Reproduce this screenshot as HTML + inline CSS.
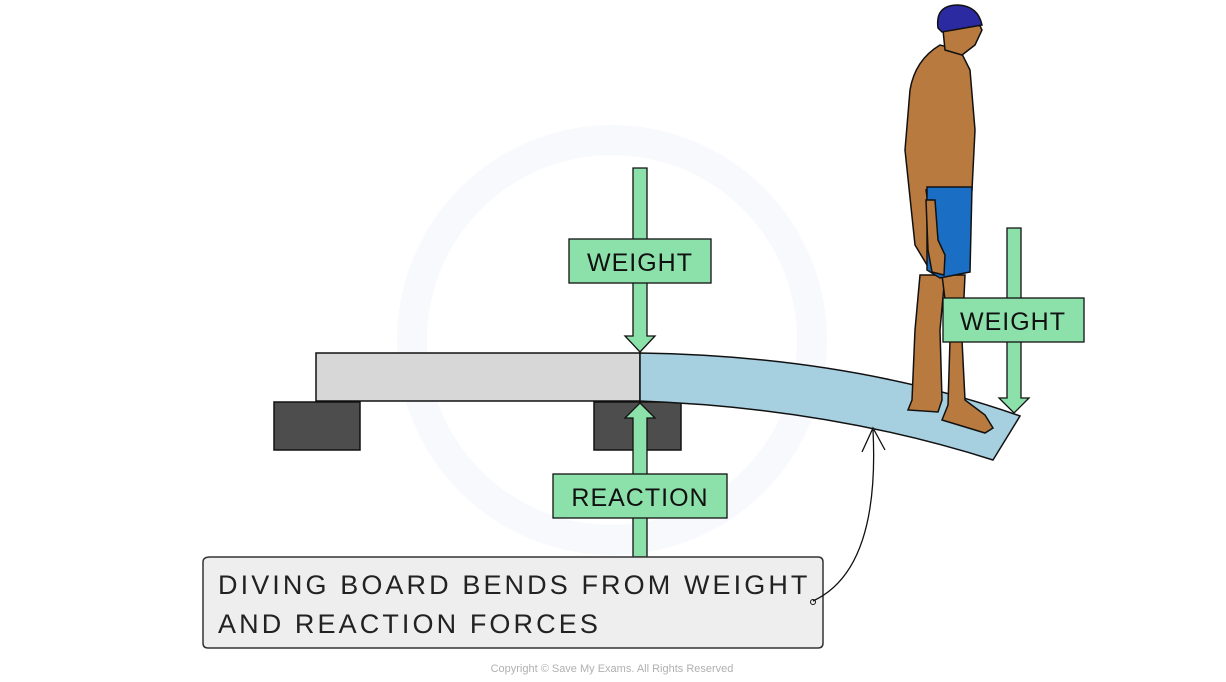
<!DOCTYPE html>
<html><head><style>
html,body{margin:0;padding:0;background:#fff;width:1226px;height:682px;overflow:hidden}
svg{display:block}
text{font-family:"Liberation Sans",sans-serif}
</style></head><body>
<svg width="1226" height="682" viewBox="0 0 1226 682">
<!-- watermark -->
<circle cx="612" cy="340" r="200" fill="none" stroke="#f7f9fc" stroke-width="30"/>
<!-- blocks -->
<rect x="274" y="402" width="86" height="48" fill="#4d4d4d" stroke="#111" stroke-width="1.5"/>
<rect x="594" y="402" width="87" height="48" fill="#4d4d4d" stroke="#111" stroke-width="1.5"/>
<!-- grey board -->
<rect x="316" y="353" width="324" height="48" fill="#d7d7d7" stroke="#111" stroke-width="1.5"/>
<!-- blue board -->
<path d="M640 353 Q850 356 1020 416 L993 460 Q830 408 640 401 Z" fill="#a6cfe0" stroke="#111" stroke-width="1.5"/>
<!-- swimmer -->
<g stroke="#111" stroke-width="1.5">
<path d="M920 275 L915 330 L912 400 L908 410 L938 412 L942 400 L940 330 L945 275 Z" fill="#b87a3e"/>
<path d="M942 275 L950 340 L948 405 L942 420 L985 433 L993 428 L985 415 L965 400 L962 340 L965 275 Z" fill="#b87a3e"/>
<path d="M940 45 Q915 60 910 90 L905 150 L915 245 L930 270 L940 260 L932 230 L926 190 L972 190 L975 130 L970 70 L960 50 Z" fill="#b87a3e"/>
<path d="M942 20 L945 50 L962 55 L975 45 L982 30 L975 15 Z" fill="#b87a3e"/>
<path d="M938 28 Q935 5 958 5 Q978 6 982 25 L942 32 Z" fill="#2c2aa0"/>
<path d="M927 187 L972 187 L970 272 L940 278 L927 270 Z" fill="#1a6fc4"/>
<path d="M926 200 L928 250 L932 272 L944 275 L945 255 L938 240 L935 200 Z" fill="#b87a3e"/>
</g>
<!-- green arrows -->
<g fill="#8ce0aa" stroke="#111" stroke-width="1.3">
<path d="M633 168 L647 168 L647 336 L655 336 L640 352 L625 336 L633 336 Z"/>
<path d="M633 557 L647 557 L647 418 L655 418 L640 403 L625 418 L633 418 Z"/>
<path d="M1007 228 L1021 228 L1021 398 L1029 398 L1014 413 L999 398 L1007 398 Z"/>
<rect x="569" y="239" width="142" height="44"/>
<rect x="553" y="474" width="174" height="44"/>
<rect x="943" y="298" width="141" height="44"/>
</g>
<g font-size="25" fill="#111" text-anchor="middle" letter-spacing="1">
<text x="640" y="271">WEIGHT</text>
<text x="640" y="506">REACTION</text>
<text x="1013" y="330">WEIGHT</text>
</g>
<!-- caption -->
<path d="M210 557 L818 557 Q823 557 823 562 L823 643 Q823 648 818 648 L208 648 Q203 648 203 643 L203 562 Q203 557 210 557 Z" fill="#eeeeee" stroke="#333" stroke-width="1.5"/>
<g font-size="27" fill="#222" letter-spacing="3.1">
<text x="218" y="594">DIVING BOARD BENDS FROM WEIGHT</text>
<text x="218" y="633">AND REACTION FORCES</text>
</g>
<!-- curved arrow -->
<path d="M813 601 Q880 570 873 430" fill="none" stroke="#111" stroke-width="1.3"/>
<path d="M862 452 L873 428 L885 450" fill="none" stroke="#111" stroke-width="1.3"/>
<circle cx="813" cy="602" r="2.5" fill="none" stroke="#111"/>
<text x="612" y="672" font-size="11" fill="#b0b0b0" text-anchor="middle">Copyright © Save My Exams. All Rights Reserved</text>
</svg>
</body></html>
